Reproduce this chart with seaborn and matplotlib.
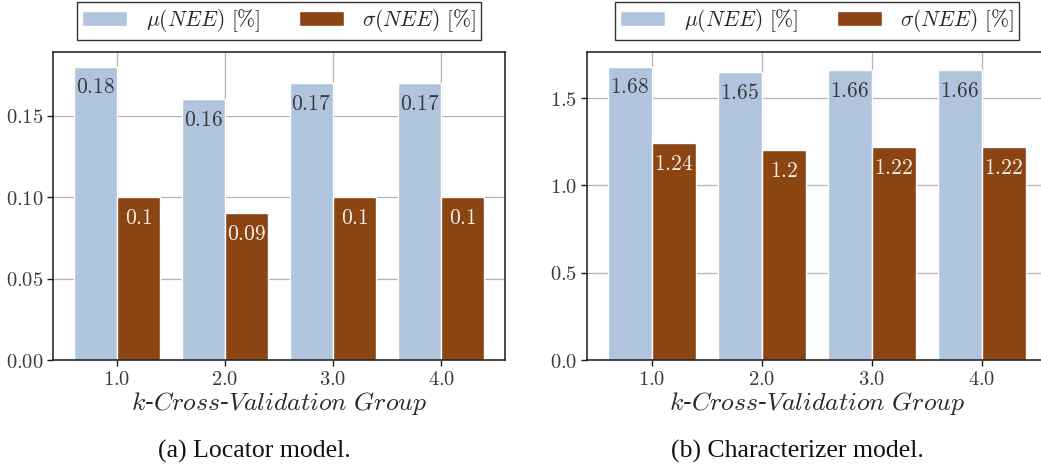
import numpy as np
import pandas as pd
import seaborn as sns
import matplotlib
matplotlib.use("Agg")
import matplotlib.pyplot as plt
from matplotlib.ticker import FormatStrFormatter, MultipleLocator

# ---------------- data ----------------
groups = ["1.0", "2.0", "3.0", "4.0"]
series_names = [r"$\mu(NEE)\ [\%]$", r"$\sigma(NEE)\ [\%]$"]
locator_mu = [0.18, 0.16, 0.17, 0.17]
locator_sigma = [0.10, 0.09, 0.10, 0.10]
charact_mu = [1.68, 1.65, 1.66, 1.66]
charact_sigma = [1.24, 1.20, 1.22, 1.22]
captions = ["(a) Locator model.", "(b) Characterizer model."]
xlabel = r"$k$-$Cross$-$Validation\ Group$"

colors = ["#B0C4DE", "#8B4513"]
label_colors = ["#3a3a3a", "#f7f0ea"]

sns.set_style("ticks")
plt.rcParams["font.family"] = ["DejaVu Serif"]
plt.rcParams["mathtext.fontset"] = "cm"
plt.rcParams["axes.unicode_minus"] = False

W, H = 1041, 469
fig = plt.figure(figsize=(W / 100, H / 100), dpi=100)


def make_df(mu, sigma):
    rows = []
    for g, m, s in zip(groups, mu, sigma):
        rows.append({"group": g, "value": m, "series": series_names[0]})
        rows.append({"group": g, "value": s, "series": series_names[1]})
    return pd.DataFrame(rows)


panels = [
    (make_df(locator_mu, locator_sigma), [53, 505], 0.05, r"$%.2f$"),
    (make_df(charact_mu, charact_sigma), [587, 1047], 0.5, r"$%.1f$"),
]

for idx, (df, (x0, x1), step, fmt) in enumerate(panels):
    ax = fig.add_axes([x0 / W, (H - 360) / H, (x1 - x0) / W, 308 / H])
    sns.barplot(data=df, x="group", y="value", hue="series", hue_order=series_names,
                palette=colors, saturation=1, width=0.8, edgecolor="white",
                linewidth=1.0, errorbar=None, ax=ax, zorder=2)
    ax.set_axisbelow(True)
    ax.grid(True, color="#b5b5b5", linewidth=0.9, zorder=0)
    ax.set_xlim(-0.59, 3.59)
    ax.set_ylim(0, df["value"].max() * 1.05)
    ax.yaxis.set_major_locator(MultipleLocator(step))
    ax.yaxis.set_major_formatter(FormatStrFormatter(fmt))
    ax.set_xticks(range(len(groups)))
    ax.set_xticklabels([f"${g}$" for g in groups])
    for sp in ax.spines.values():
        sp.set_visible(True)
        sp.set_color("#1a1a1a")
        sp.set_linewidth(1.1)
    ax.tick_params(axis="both", labelsize=14.8, labelcolor="#3a3a3a",
                   length=4, width=1, color="#1a1a1a", pad=3)
    ax.set_xlabel(xlabel, fontsize=18.5, color="#2a2a2a", labelpad=1)
    ax.set_ylabel("")

    for ci, cont in enumerate(ax.containers):
        vals = [b.get_height() for b in cont]
        texts = ax.bar_label(cont, labels=[f"${v:g}$" for v in vals],
                             padding=-7, fontsize=15.5, color=label_colors[ci])
        for t in texts:
            t.set_va("top")

    handles, labels = ax.get_legend_handles_labels()
    if ax.get_legend() is not None:
        ax.get_legend().remove()
    leg = ax.legend(handles, labels, loc="upper center", bbox_to_anchor=(0.5, 1.163),
                    ncol=2, frameon=True, fancybox=False, framealpha=1,
                    edgecolor="#333333", fontsize=15.5, handlelength=2.1,
                    handleheight=0.7, handletextpad=0.85, columnspacing=1.8,
                    borderpad=0.25, borderaxespad=0)
    leg.get_frame().set_linewidth(1.0)

fig.text(254 / W, 11 / H, captions[0], family="Liberation Serif", fontsize=18.5,
         ha="center", va="baseline", color="#111111")
fig.text(797 / W, 11 / H, captions[1], family="Liberation Serif", fontsize=18.5,
         ha="center", va="baseline", color="#111111")

fig.savefig("out.png", dpi=100)
